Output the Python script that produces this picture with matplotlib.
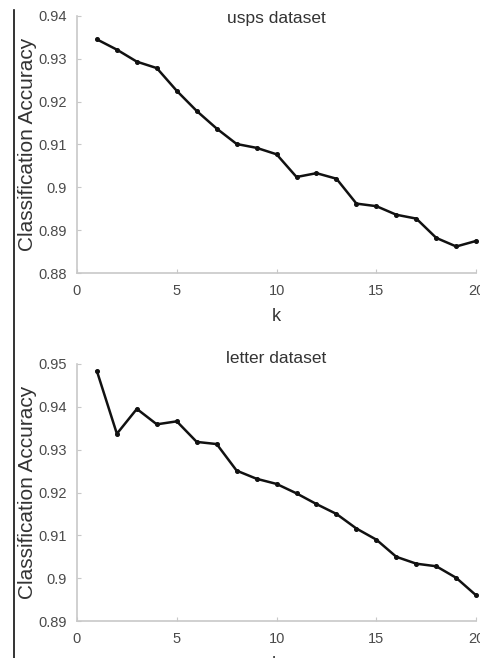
import matplotlib
matplotlib.use("Agg")
import matplotlib.pyplot as plt
from matplotlib.lines import Line2D

plt.rcParams['font.family'] = ['Liberation Sans', 'DejaVu Sans']

k = list(range(1, 21))

usps_acc = [0.9345, 0.9321, 0.9293, 0.9278, 0.9225, 0.9178, 0.9137, 0.9101,
            0.9092, 0.9077, 0.9024, 0.9033, 0.9020, 0.8962, 0.8956, 0.8936,
            0.8927, 0.8882, 0.8862, 0.8875]

letter_acc = [0.9483, 0.9337, 0.9395, 0.9359, 0.9366, 0.9318, 0.9313, 0.9251,
              0.9232, 0.9220, 0.9198, 0.9173, 0.9150, 0.9116, 0.9090, 0.9050,
              0.9034, 0.9028, 0.9001, 0.8960]

usps_yticks = [0.88, 0.89, 0.90, 0.91, 0.92, 0.93, 0.94]
usps_ylabels = ['0.88', '0.89', '0.9', '0.91', '0.92', '0.93', '0.94']
letter_yticks = [0.89, 0.90, 0.91, 0.92, 0.93, 0.94, 0.95]
letter_ylabels = ['0.89', '0.9', '0.91', '0.92', '0.93', '0.94', '0.95']
xticks = [0, 5, 10, 15, 20]

fig = plt.figure(figsize=(4.81, 6.58), dpi=100)
ax1 = fig.add_axes([0.160, 0.585, 0.830, 0.391])
ax2 = fig.add_axes([0.160, 0.056, 0.830, 0.391])

panels = [
    (ax1, usps_acc, usps_yticks, usps_ylabels, 'usps dataset', -0.012),
    (ax2, letter_acc, letter_yticks, letter_ylabels, 'letter dataset', 0.02),
]

for ax, acc, yt, yl, title, title_y in panels:
    ax.plot(k, acc, color='#111111', linewidth=1.8, marker='o',
            markersize=2.6, clip_on=False)
    ax.set_xlim(0, 20)
    ax.set_ylim(yt[0], yt[-1])
    ax.set_xticks(xticks)
    ax.set_yticks(yt)
    ax.set_yticklabels(yl)
    for s in ['top', 'right']:
        ax.spines[s].set_visible(False)
    for s in ['left', 'bottom']:
        ax.spines[s].set_color('#c8c8c8')
        ax.spines[s].set_linewidth(1.2)
    ax.tick_params(direction='in', length=3, width=0.8, color='#c8c8c8',
                   labelcolor='#4a4a4a', labelsize=10.5)
    ax.tick_params(axis='x', pad=8)
    ax.tick_params(axis='y', pad=7)
    ax.set_xlabel('k', fontsize=13, color='#333333', labelpad=7)
    ax.set_ylabel('Classification Accuracy', fontsize=15, color='#333333')
    ax.yaxis.set_label_coords(-0.100, 0.5)
    ax.text(0.5, 1.0 + title_y, title, transform=ax.transAxes, ha='center',
            va='center', fontsize=12.5, color='#333333')

# thin rule down the left side
fig.add_artist(Line2D([13.5 / 481, 13.5 / 481], [0, 1 - 10 / 658],
                      transform=fig.transFigure, color='#111111', linewidth=1.2))

fig.savefig('out.png', dpi=100)
